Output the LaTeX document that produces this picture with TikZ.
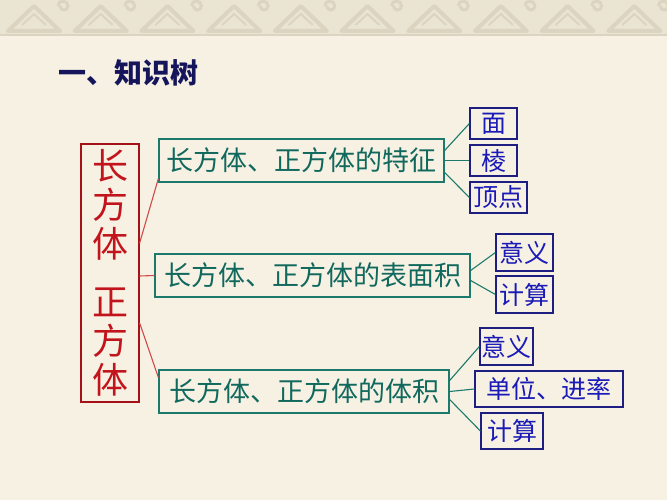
\documentclass[tikz,border=0pt]{standalone}
\usepackage{xcolor}
\usepackage{fontspec}
\usepackage{tikz}
\usetikzlibrary{positioning}
\usetikzlibrary{calc}
\newfontfamily\cjk{Noto Sans CJK SC}

\definecolor{paper}{HTML}{F7F1E3}
\definecolor{trim}{HTML}{DAD4C0}
\definecolor{teal}{HTML}{1B7A6C}
\definecolor{tealtext}{HTML}{11695E}
\definecolor{navy}{HTML}{1E1E82}
\definecolor{bluetext}{HTML}{1A1AB8}
\definecolor{rootred}{HTML}{C2141C}
\definecolor{linkred}{HTML}{D04A4A}
\definecolor{titleblue}{HTML}{15155C}

\begin{document}
\begin{tikzpicture}[x=1pt,y=-1pt,
    rootbox/.style={draw=rootred!85!black,line width=1.3pt,text=rootred,inner sep=0pt,
        minimum width=58pt,minimum height=258pt,align=center,
        font=\cjk\fontsize{36}{39}\selectfont},
    topic/.style={draw=teal,line width=1.3pt,text=tealtext,inner sep=0pt,
        minimum height=43pt,font=\cjk\fontsize{27}{30}\selectfont},
    leaf/.style={draw=navy,line width=1.2pt,fill=paper,text=bluetext,inner sep=0pt,
        font=\cjk\fontsize{25}{28}\selectfont},
    redlink/.style={draw=linkred,line width=1.1pt},
    teallink/.style={draw=teal,line width=1.1pt}]
            %%% BACKGROUND %%%
            \fill[paper] (0,0) rectangle (667,500);
            \useasboundingbox (0,0) rectangle (667,500);
            \fill[trim!45!paper] (0,0) rectangle (667,36);
            \foreach \i in {0,...,9}{
                \draw[trim,line width=4pt,line join=round] ({\i*66.7+8},31) -- ({\i*66.7+34},6) -- ({\i*66.7+60},31) -- cycle;
                \draw[trim,line width=2pt] ({\i*66.7+22},25) -- ({\i*66.7+34},14) -- ({\i*66.7+46},25);
                \draw[trim,line width=3pt] ({\i*66.7+58},6) arc (180:360:5) arc (0:180:4);
            }
            \draw[trim,line width=2pt] (0,35) -- (667,35);

            %%% TITLE %%%
            \node[anchor=west,text=titleblue,font=\cjk\bfseries\fontsize{28}{30}\selectfont] (title) at (55,73) {一、知识树};

            %%% NODES %%%
            \node[rootbox] (root) at (110,273) {长\\方\\体\\[19pt]正\\方\\体};

            \node[topic,minimum width=285pt] (feat) at (301.5,160.5) {长方体、正方体的特征};
            \node[topic,minimum width=315pt] (area) at (312.5,275.5) {长方体、正方体的表面积};
            \node[topic,minimum width=290pt] (vol) at (304,391.5) {长方体、正方体的体积};

            \node[leaf,minimum width=47pt,minimum height=31pt] (face) at (493.5,123.5) {面};
            \node[leaf,minimum width=47pt,minimum height=31pt] (edge) at (493.5,160.5) {棱};
            \node[leaf,minimum width=57pt,minimum height=31pt] (vertex) at (498.5,197.5) {顶点};

            \node[leaf,minimum width=57pt,minimum height=37pt] (areamean) at (524.5,252.5) {意义};
            \node[leaf,minimum width=57pt,minimum height=37pt] (areacalc) at (524.5,294.5) {计算};

            \node[leaf,minimum width=53pt,minimum height=37pt] (volmean) at (506.5,346.5) {意义};
            \node[leaf,minimum width=148pt,minimum height=36pt] (volunit) at (549,389) {单位、进率};
            \node[leaf,minimum width=62pt,minimum height=36pt] (volcalc) at (512,431) {计算};

            %%% LINKS %%%
            \draw[redlink] ([yshift=30pt]root.east) -- ([yshift=4pt]feat.south west);
            \draw[redlink] ([yshift=-3pt]root.east) -- (area.west);
            \draw[redlink] ([yshift=-50pt]root.east) -- ([yshift=-8pt]vol.north west);

            \draw[teallink] ([yshift=10pt]feat.east) -- (face.west);
            \draw[teallink] (feat.east) -- (edge.west);
            \draw[teallink] ([yshift=-12pt]feat.east) -- (vertex.west);

            \draw[teallink] ([yshift=5pt]area.east) -- (areamean.west);
            \draw[teallink] ([yshift=-5pt]area.east) -- (areacalc.west);

            \draw[teallink] ([yshift=11pt]vol.east) -- (volmean.west);
            \draw[teallink] (vol.east) -- (volunit.west);
            \draw[teallink] ([yshift=-8pt]vol.east) -- (volcalc.west);
\end{tikzpicture}
\end{document}
